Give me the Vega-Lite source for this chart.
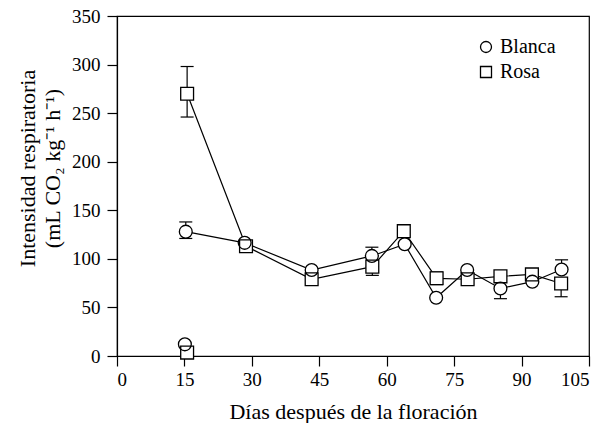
{
  "$schema": "https://vega.github.io/schema/vega-lite/v6.json",
  "width": 472,
  "height": 340,
  "autosize": {"type": "none"},
  "padding": {"left": 117, "top": 16, "right": 13, "bottom": 67},
  "background": "white",
  "resolve": {"scale": {"shape": "independent"}, "legend": {"shape": "independent"}},
  "config": {
    "view": {"stroke": "black", "strokeWidth": 1.2},
    "font": "Liberation Serif",
    "axis": {
      "grid": false,
      "domainColor": "black",
      "domainWidth": 1.2,
      "tickColor": "black",
      "tickWidth": 1.2,
      "tickSize": 10,
      "labelFont": "Liberation Serif",
      "labelFontSize": 19,
      "labelColor": "black",
      "titleFont": "Liberation Serif",
      "titleFontSize": 22,
      "titleFontWeight": "normal",
      "titleColor": "black",
      "labelPadding": 4
    },
    "legend": {
      "labelFont": "Liberation Serif",
      "labelFontSize": 20,
      "labelColor": "black",
      "rowPadding": 5,
      "labelOffset": 4,
      "padding": 0
    }
  },
  "datasets": {
    "puntos": [
      {"serie": "Blanca", "dia": 15.3, "valor": 128, "linea": true},
      {"serie": "Blanca", "dia": 28.4, "valor": 116.5, "linea": true},
      {"serie": "Blanca", "dia": 43.3, "valor": 88.5, "linea": true},
      {"serie": "Blanca", "dia": 56.7, "valor": 103, "linea": true},
      {"serie": "Blanca", "dia": 64, "valor": 115, "linea": true},
      {"serie": "Blanca", "dia": 71, "valor": 60, "linea": true},
      {"serie": "Blanca", "dia": 77.9, "valor": 88.5, "linea": true},
      {"serie": "Blanca", "dia": 85.3, "valor": 69.5, "linea": true},
      {"serie": "Blanca", "dia": 92.4, "valor": 76.5, "linea": true},
      {"serie": "Blanca", "dia": 98.9, "valor": 89, "linea": true},
      {"serie": "Blanca", "dia": 15.1, "valor": 12, "linea": false},
      {"serie": "Rosa", "dia": 15.6, "valor": 270, "linea": true},
      {"serie": "Rosa", "dia": 28.7, "valor": 113, "linea": true},
      {"serie": "Rosa", "dia": 43.3, "valor": 79, "linea": true},
      {"serie": "Rosa", "dia": 56.8, "valor": 92, "linea": true},
      {"serie": "Rosa", "dia": 63.8, "valor": 128.5, "linea": true},
      {"serie": "Rosa", "dia": 71.1, "valor": 80, "linea": true},
      {"serie": "Rosa", "dia": 78, "valor": 79, "linea": true},
      {"serie": "Rosa", "dia": 85.3, "valor": 82, "linea": true},
      {"serie": "Rosa", "dia": 92.3, "valor": 84, "linea": true},
      {"serie": "Rosa", "dia": 98.8, "valor": 74.6, "linea": true},
      {"serie": "Rosa", "dia": 15.6, "valor": 3.5, "linea": false}
    ],
    "errores": [
      {"serie": "Blanca", "dia": 15.3, "lo": 121, "hi": 138},
      {"serie": "Rosa", "dia": 15.6, "lo": 246, "hi": 298},
      {"serie": "Blanca", "dia": 56.7, "lo": 103, "hi": 112},
      {"serie": "Rosa", "dia": 56.8, "lo": 83, "hi": 92},
      {"serie": "Rosa", "dia": 71.1, "lo": 73.5, "hi": 86.5},
      {"serie": "Blanca", "dia": 85.3, "lo": 59, "hi": 69.5},
      {"serie": "Blanca", "dia": 98.9, "lo": 89, "hi": 99},
      {"serie": "Rosa", "dia": 98.8, "lo": 61, "hi": 74.6}
    ]
  },
  "layer": [
    {
      "data": {"name": "errores"},
      "mark": {"type": "rule", "color": "black", "strokeWidth": 1.2},
      "encoding": {
        "x": {"field": "dia", "type": "quantitative", "scale": {"domain": [0, 105], "nice": false}},
        "y": {"field": "lo", "type": "quantitative", "scale": {"domain": [0, 350], "nice": false}},
        "y2": {"field": "hi"}
      }
    },
    {
      "data": {"name": "errores"},
      "mark": {"type": "tick", "orient": "horizontal", "color": "black", "size": 13, "thickness": 1.2, "opacity": 1},
      "encoding": {
        "x": {"field": "dia", "type": "quantitative"},
        "y": {"field": "lo", "type": "quantitative"}
      }
    },
    {
      "data": {"name": "errores"},
      "mark": {"type": "tick", "orient": "horizontal", "color": "black", "size": 13, "thickness": 1.2, "opacity": 1},
      "encoding": {
        "x": {"field": "dia", "type": "quantitative"},
        "y": {"field": "hi", "type": "quantitative"}
      }
    },
    {
      "data": {"name": "puntos"},
      "transform": [{"filter": "datum.linea"}],
      "mark": {"type": "line", "color": "black", "strokeWidth": 1.2},
      "encoding": {
        "x": {"field": "dia", "type": "quantitative"},
        "y": {"field": "valor", "type": "quantitative"},
        "detail": {"field": "serie"},
        "order": {"field": "dia", "type": "quantitative"}
      }
    },
    {
      "data": {"name": "puntos"},
      "mark": {"type": "point", "filled": true, "color": "white", "opacity": 1, "size": 165},
      "encoding": {
        "x": {"field": "dia", "type": "quantitative"},
        "y": {"field": "valor", "type": "quantitative"},
        "shape": {
          "field": "serie", "type": "nominal",
          "scale": {"domain": ["Blanca", "Rosa"], "range": ["circle", "square"]},
          "legend": null
        }
      }
    },
    {
      "data": {"name": "puntos"},
      "mark": {"type": "point", "filled": false, "color": "black", "strokeWidth": 1.3, "opacity": 1, "size": 165},
      "encoding": {
        "x": {
          "field": "dia", "type": "quantitative",
          "axis": {"values": [0, 15, 30, 45, 60, 75, 90, 105], "title": "Días después de la floración", "titlePadding": 12}
        },
        "y": {
          "field": "valor", "type": "quantitative",
          "axis": {"values": [0, 50, 100, 150, 200, 250, 300, 350], "title": ["Intensidad respiratoria", "(mL CO₂ kg⁻¹ h⁻¹)"], "titlePadding": 7, "titleLineHeight": 25, "labelPadding": 7, "titleY": 152}
        },
        "shape": {
          "field": "serie", "type": "nominal",
          "scale": {"domain": ["Blanca", "Rosa"], "range": ["circle", "square"]},
          "legend": {
            "title": null, "orient": "none", "legendX": 359, "legendY": 21,
            "symbolStrokeColor": "black", "symbolStrokeWidth": 1.3, "symbolSize": 121
          }
        }
      }
    }
  ]
}
